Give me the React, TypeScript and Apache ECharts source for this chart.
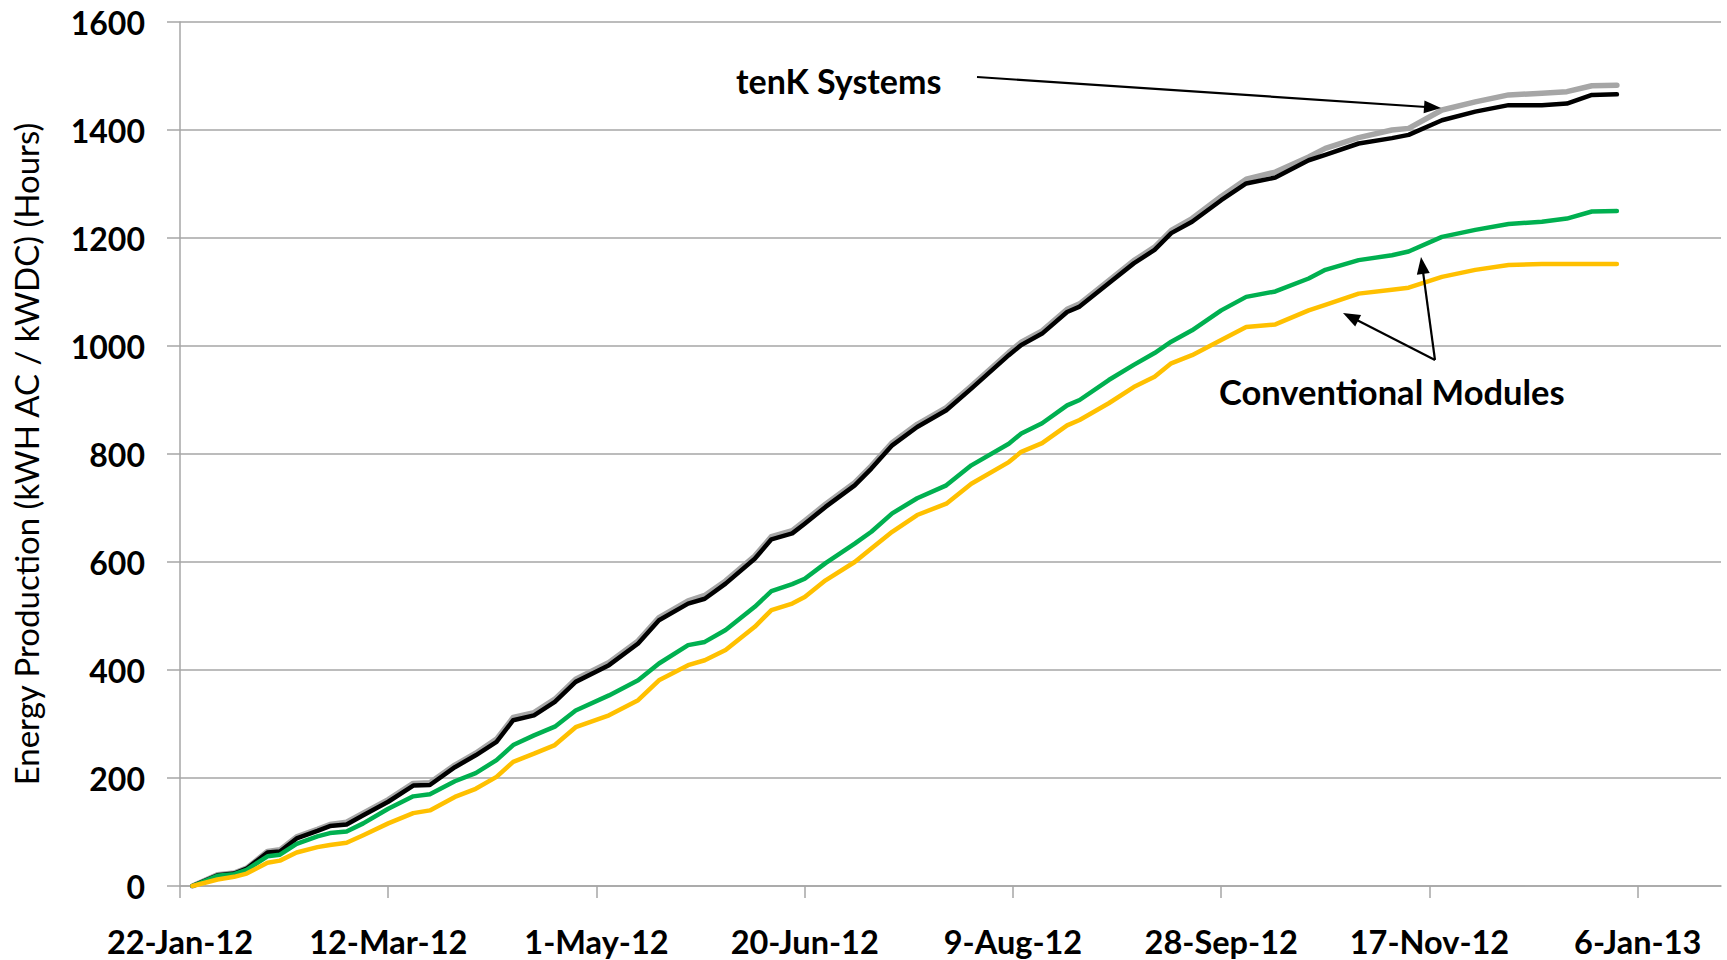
import React, { useEffect, useRef } from 'react';
import * as echarts from 'echarts';

// Days counted from 22-Jan-12
const xTickLabels = ['22-Jan-12', '12-Mar-12', '1-May-12', '20-Jun-12', '9-Aug-12', '28-Sep-12', '17-Nov-12', '6-Jan-13'];
const xTickDays = [0, 50, 100, 150, 200, 250, 300, 350];

const days = [3, 9, 13, 16, 21, 24, 28, 33, 36, 40, 44, 50, 56, 60, 66, 71, 76, 80, 85, 90, 95, 103, 110, 115, 122, 126, 131, 138, 142, 147, 150, 155, 162, 166, 171, 177, 184, 190, 199, 202, 207, 213, 216, 223, 229, 234, 238, 243, 250, 256, 263, 271, 275, 283, 291, 295, 303, 311, 319, 327, 333, 339, 345];

const tenKGray = [0, 21, 24, 33, 64, 67, 91, 105, 114, 118, 135, 160, 190, 191, 224, 246, 272, 312, 321, 346, 383, 414, 454, 497, 528, 538, 565, 611, 647, 658, 676, 707, 747, 778, 821, 855, 886, 926, 988, 1007, 1028, 1068, 1078, 1121, 1158, 1183, 1214, 1236, 1277, 1309, 1322, 1350, 1366, 1386, 1400, 1403, 1437, 1452, 1465, 1468, 1471, 1482, 1483];
const tenKBlack = [0, 20, 23, 32, 62, 64, 88, 102, 111, 114, 131, 156, 186, 187, 220, 242, 267, 307, 316, 341, 378, 409, 449, 492, 523, 532, 560, 606, 642, 653, 671, 702, 742, 773, 816, 850, 881, 921, 983, 1002, 1023, 1063, 1073, 1116, 1153, 1178, 1209, 1230, 1270, 1301, 1312, 1344, 1354, 1375, 1385, 1391, 1418, 1434, 1446, 1446, 1449, 1465, 1466];
const convGreen = [0, 19, 22, 30, 55, 58, 78, 92, 98, 101, 116, 143, 166, 170, 194, 209, 233, 261, 279, 295, 325, 353, 381, 412, 446, 452, 474, 517, 546, 559, 569, 598, 634, 656, 690, 718, 742, 779, 819, 838, 857, 890, 900, 937, 965, 987, 1008, 1029, 1066, 1091, 1101, 1125, 1141, 1159, 1168, 1175, 1202, 1215, 1226, 1230, 1236, 1249, 1250];
const convYellow = [0, 12, 17, 23, 43, 47, 62, 72, 76, 80, 94, 116, 135, 140, 165, 180, 202, 230, 245, 261, 294, 316, 344, 381, 409, 418, 437, 480, 511, 523, 535, 566, 600, 625, 656, 687, 708, 745, 785, 804, 820, 853, 863, 894, 924, 943, 968, 983, 1011, 1035, 1040, 1066, 1076, 1097, 1104, 1108, 1128, 1141, 1150, 1152, 1152, 1152, 1152];

const FONT = 'Lato, "Open Sans", "DejaVu Sans", sans-serif';
const AXIS_GRAY = '#a6a6a6';

function zip(ys: number[]) {
  return days.map((d, i) => [d, ys[i]]);
}

function arrow(x1: number, y1: number, x2: number, y2: number) {
  const dx = x2 - x1;
  const dy = y2 - y1;
  const len = Math.sqrt(dx * dx + dy * dy);
  const ux = dx / len;
  const uy = dy / len;
  const headLen = 17;
  const headW = 6.5;
  const bx = x2 - ux * headLen;
  const by = y2 - uy * headLen;
  return [
    {
      type: 'line',
      shape: { x1, y1, x2: bx + ux * 2, y2: by + uy * 2 },
      style: { stroke: '#000', lineWidth: 2.2 },
      z: 100,
    },
    {
      type: 'polygon',
      shape: {
        points: [
          [x2, y2],
          [bx - uy * headW, by + ux * headW],
          [bx + uy * headW, by - ux * headW],
        ],
      },
      style: { fill: '#000' },
      z: 100,
    },
  ];
}

export default function App() {
  const ref = useRef<HTMLDivElement>(null);

  useEffect(() => {
    if (!ref.current) return;
    const chart = echarts.init(ref.current, null, { renderer: 'svg' });
    const lineSeries = (name: string, color: string, data: number[], width: number) => ({
      name,
      type: 'line',
      data: zip(data),
      showSymbol: false,
      symbol: 'none',
      lineStyle: { color, width, cap: 'round', join: 'round' },
      itemStyle: { color },
    });
    chart.setOption({
      animation: false,
      backgroundColor: '#ffffff',
      grid: { left: 180, right: 6, top: 22, bottom: 74 },
      xAxis: {
        type: 'value',
        min: 0,
        max: 370,
        interval: 50,
        axisLine: { show: true, onZero: false, lineStyle: { color: AXIS_GRAY, width: 1.5 } },
        axisTick: { show: true, length: 12, customValues: xTickDays, lineStyle: { color: AXIS_GRAY, width: 1.5 } },
        splitLine: { show: false },
        axisLabel: {
          customValues: xTickDays,
          margin: 38,
          color: '#000',
          fontFamily: FONT,
          fontWeight: 'bold',
          fontSize: 32.5,
          lineHeight: 34,
          formatter: (v: number) => {
            const i = xTickDays.indexOf(Math.round(v));
            return i >= 0 ? xTickLabels[i] : '';
          },
        },
      },
      yAxis: {
        type: 'value',
        min: 0,
        max: 1600,
        interval: 200,
        name: 'Energy Production (kWH AC / kWDC) (Hours)',
        nameLocation: 'middle',
        nameRotate: 90,
        nameGap: 138,
        nameTextStyle: { color: '#000', fontFamily: FONT, fontSize: 33, fontWeight: 'normal' },
        axisLine: { show: true, lineStyle: { color: AXIS_GRAY, width: 1.5 } },
        axisTick: { show: true, length: 13, lineStyle: { color: AXIS_GRAY, width: 1.5 } },
        splitLine: { show: true, lineStyle: { color: AXIS_GRAY, width: 1.5 } },
        axisLabel: {
          margin: 35,
          color: '#000',
          fontFamily: FONT,
          fontWeight: 'bold',
          fontSize: 32,
          formatter: (v: number) => String(v),
        },
      },
      series: [
        lineSeries('tenK Systems (A)', '#a6a6a6', tenKGray, 5.5),
        lineSeries('tenK Systems (B)', '#000000', tenKBlack, 4.5),
        lineSeries('Conventional Module (A)', '#00b050', convGreen, 4.5),
        lineSeries('Conventional Module (B)', '#ffc000', convYellow, 4.5),
      ],
      graphic: [
        {
          type: 'text',
          x: 736,
          y: 80,
          style: { text: 'tenK Systems', fill: '#000', font: `bold 34px ${FONT}`, textVerticalAlign: 'middle', textAlign: 'left' },
          z: 100,
        },
        {
          type: 'text',
          x: 1219,
          y: 391,
          style: { text: 'Conventional Modules', fill: '#000', font: `bold 34.5px ${FONT}`, textVerticalAlign: 'middle', textAlign: 'left' },
          z: 100,
        },
        ...arrow(977, 77, 1441, 108),
        ...arrow(1435, 360, 1421, 257),
        ...arrow(1435, 360, 1343, 313),
      ],
    });
    return () => chart.dispose();
  }, []);

  return (
    <div
      ref={ref}
      style={{ position: 'absolute', left: 0, top: 0, width: 1727, height: 960, background: '#fff' }}
    />
  );
}
